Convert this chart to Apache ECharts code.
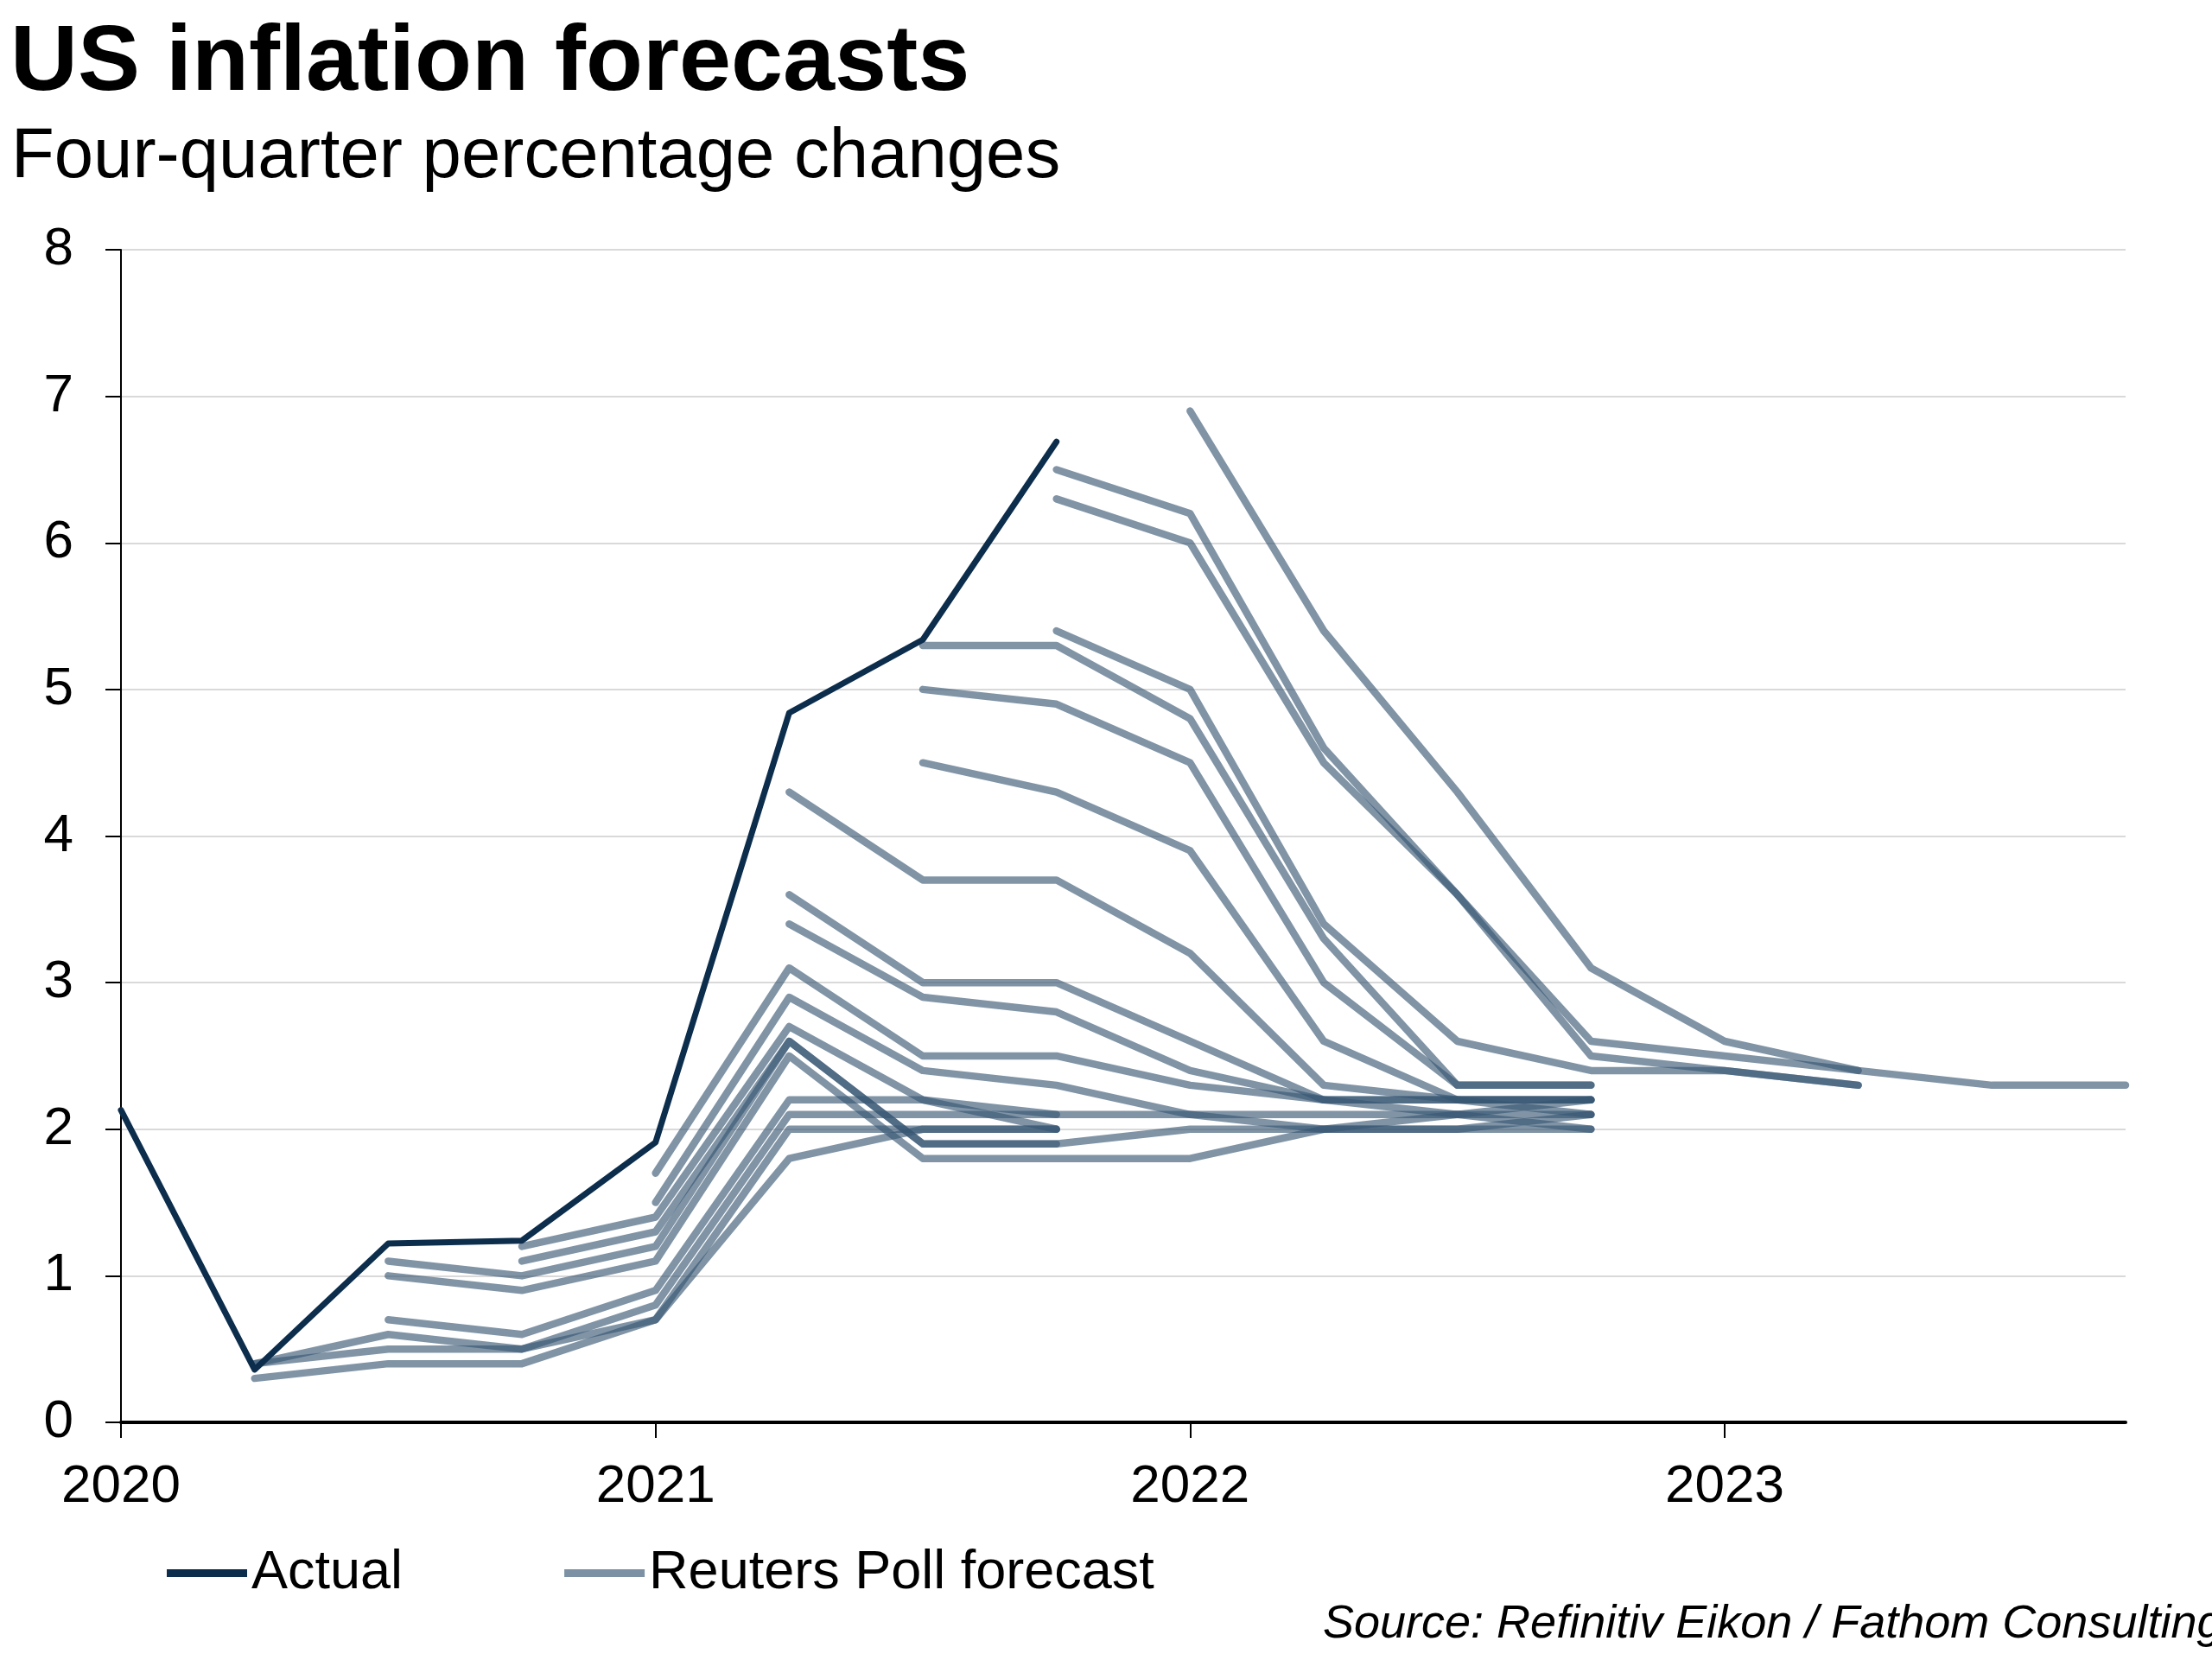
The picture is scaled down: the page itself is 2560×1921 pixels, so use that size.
<!DOCTYPE html>
<html>
<head>
<meta charset="utf-8">
<script src="https://cdn.jsdelivr.net/npm/echarts@6/dist/echarts.min.js"></script>
<style>
html,body{margin:0;padding:0;background:#ffffff;}
#chart{width:2560px;height:1921px;}
</style>
</head>
<body>
<div id="chart"></div>
<script>
// ---- Data ----
const quarters = ['2020 Q1','2020 Q2','2020 Q3','2020 Q4',
                  '2021 Q1','2021 Q2','2021 Q3','2021 Q4',
                  '2022 Q1','2022 Q2','2022 Q3','2022 Q4',
                  '2023 Q1','2023 Q2','2023 Q3','2023 Q4'];

const actual = [2.13, 0.36, 1.22, 1.24, 1.91, 4.84, 5.34, 6.69, null, null, null, null, null, null, null, null];

// Reuters Poll forecasts, one array per poll (null = not part of that forecast)
const poll01 = [null, 0.3, 0.4, 0.4, 0.7, 1.8, 2.0, 2.0, null, null, null, null, null, null, null, null];
const poll02 = [null, 0.4, 0.6, 0.5, 0.8, 2.1, 2.1, 2.1, null, null, null, null, null, null, null, null];
const poll03 = [null, 0.4, 0.5, 0.5, 0.7, 2.0, 2.0, 2.0, null, null, null, null, null, null, null, null];
const poll04 = [null, null, 0.7, 0.6, 0.9, 2.2, 2.2, 2.0, null, null, null, null, null, null, null, null];
const poll05 = [null, null, 1.1, 1.0, 1.2, 2.6, 1.9, 1.9, null, null, null, null, null, null, null, null];
const poll06 = [null, null, 1.0, 0.9, 1.1, 2.5, 1.8, 1.8, 1.8, 2.0, 2.1, 2.2, null, null, null, null];
const poll07 = [null, null, null, 1.2, 1.4, 2.7, 2.2, 2.1, 2.1, 2.0, 2.0, 2.1, null, null, null, null];
const poll08 = [null, null, null, 1.1, 1.3, 2.6, 1.9, 1.9, 2.0, 2.0, 2.0, 2.0, null, null, null, null];
const poll09 = [null, null, null, null, 1.7, 3.1, 2.5, 2.5, 2.3, 2.2, 2.1, 2.1, null, null, null, null];
const poll10 = [null, null, null, null, 1.5, 2.9, 2.4, 2.3, 2.1, 2.1, 2.1, 2.0, null, null, null, null];
const poll11 = [null, null, null, null, null, 4.3, 3.7, 3.7, 3.2, 2.3, 2.2, 2.2, null, null, null, null];
const poll12 = [null, null, null, null, null, 3.6, 3.0, 3.0, 2.6, 2.2, 2.2, 2.2, null, null, null, null];
const poll13 = [null, null, null, null, null, 3.4, 2.9, 2.8, 2.4, 2.2, 2.2, 2.2, null, null, null, null];
const poll14 = [null, null, null, null, null, null, 5.3, 5.3, 4.8, 3.3, 2.3, 2.3, null, null, null, null];
const poll15 = [null, null, null, null, null, null, 5.0, 4.9, 4.5, 3.0, 2.3, 2.3, null, null, null, null];
const poll16 = [null, null, null, null, null, null, 4.5, 4.3, 3.9, 2.6, 2.2, 2.1, null, null, null, null];
const poll17 = [null, null, null, null, null, null, null, 6.5, 6.2, 4.6, 3.6, 2.6, 2.5, 2.4, null, null];
const poll18 = [null, null, null, null, null, null, null, 6.3, 6.0, 4.5, 3.6, 2.5, 2.4, 2.3, null, null];
const poll19 = [null, null, null, null, null, null, null, 5.4, 5.0, 3.4, 2.6, 2.4, 2.4, 2.3, null, null];
const poll20 = [null, null, null, null, null, null, null, null, 6.9, 5.4, 4.3, 3.1, 2.6, 2.4, 2.3, 2.3];

const polls = [poll01, poll02, poll03, poll04, poll05, poll06, poll07, poll08, poll09, poll10,
               poll11, poll12, poll13, poll14, poll15, poll16, poll17, poll18, poll19, poll20];

const yTicks = [0, 1, 2, 3, 4, 5, 6, 7, 8];

// ---- Styling ----
const FONT = 'Liberation Sans, Arial, Helvetica, sans-serif';
const ACTUAL_COLOR = '#0c2d4c';
const POLL_COLOR = '#365672';
const POLL_LEGEND = '#7c91a3';

const chart = echarts.init(document.getElementById('chart'), null, {renderer: 'canvas'});

const series = polls.map(p => ({
  type: 'line',
  name: 'Reuters Poll forecast',
  data: p,
  symbol: 'none',
  showSymbol: false,
  connectNulls: false,
  silent: true,
  z: 2,
  lineStyle: {color: POLL_COLOR, width: 8.5, opacity: 0.63, cap: 'round', join: 'round'},
  itemStyle: {color: POLL_LEGEND}
}));
series.push({
  type: 'line',
  name: 'Actual',
  data: actual,
  symbol: 'none',
  showSymbol: false,
  connectNulls: false,
  silent: true,
  z: 3,
  lineStyle: {color: ACTUAL_COLOR, width: 7, cap: 'round', join: 'round'},
  itemStyle: {color: ACTUAL_COLOR}
});

chart.setOption({
  animation: false,
  backgroundColor: '#ffffff',
  title: [
    {text: 'US inflation forecasts', left: 12, top: 20, padding: 0,
     textStyle: {fontFamily: FONT, fontSize: 108, fontWeight: 'bold', color: '#000'}},
    {text: 'Four-quarter percentage changes', left: 13, top: 142, padding: 0,
     textStyle: {fontFamily: FONT, fontSize: 81.5, fontWeight: 'normal', color: '#000'}},
    {text: 'Source: Refinitiv Eikon / Fathom Consulting', left: 1531, top: 1853, padding: 0,
     textStyle: {fontFamily: FONT, fontSize: 54, fontStyle: 'italic', fontWeight: 'normal', color: '#000'}}
  ],
  legend: {
    left: 193, top: 1789, padding: 0,
    itemWidth: 93, itemHeight: 9, itemGap: 187,
    icon: 'rect',
    selectedMode: false,
    textStyle: {fontFamily: FONT, fontSize: 63, color: '#000'},
    data: [
      {name: 'Actual', itemStyle: {color: ACTUAL_COLOR}},
      {name: 'Reuters Poll forecast', itemStyle: {color: POLL_LEGEND}}
    ]
  },
  grid: {left: 140, right: 100, top: 289, bottom: 275, containLabel: false},
  xAxis: {
    type: 'category',
    data: quarters,
    boundaryGap: false,
    axisLine: {show: true, lineStyle: {color: '#000', width: 4}},
    axisTick: {show: true, interval: 3, length: 18, inside: false, lineStyle: {color: '#000', width: 2}},
    axisLabel: {interval: 3, margin: 44, fontFamily: FONT, fontSize: 62, color: '#000',
                formatter: v => v.slice(0, 4)},
    splitLine: {show: false}
  },
  yAxis: {
    type: 'value',
    min: yTicks[0], max: yTicks[yTicks.length - 1], interval: 1,
    axisLine: {show: true, lineStyle: {color: '#000', width: 2}},
    axisTick: {show: true, length: 18, inside: false, lineStyle: {color: '#000', width: 2}},
    axisLabel: {margin: 55, fontFamily: FONT, fontSize: 62, color: '#000'},
    splitLine: {show: true, lineStyle: {color: '#d9d9d9', width: 2}}
  },
  series: series
});
</script>
</body>
</html>
